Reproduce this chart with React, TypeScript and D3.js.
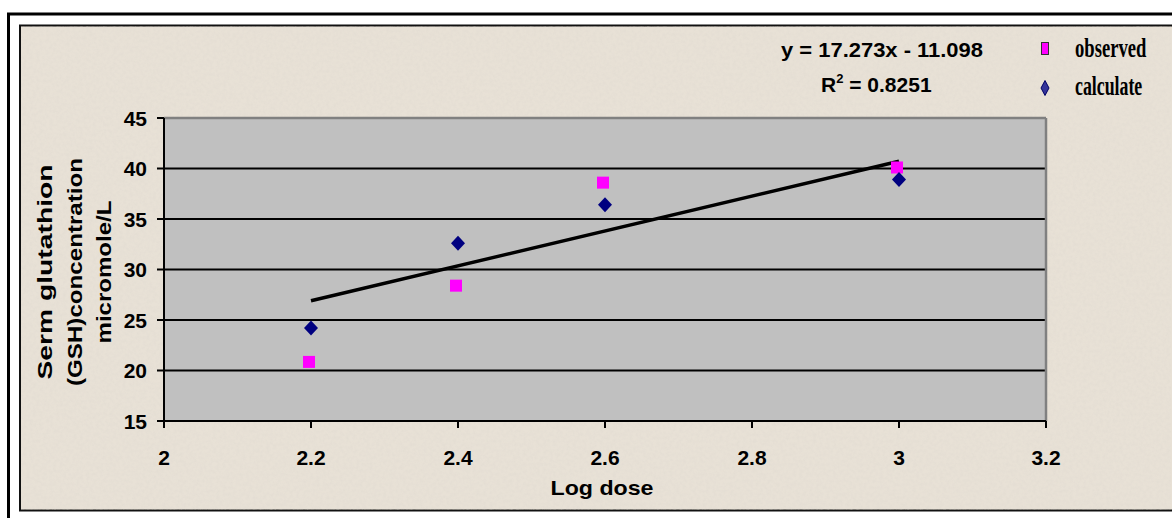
import React from "react";
import * as d3 from "d3";

const logDose = [2.2, 2.4, 2.6, 3.0];
const observed = [20.85, 28.4, 38.6, 40.1];
const calculated = [24.2, 32.6, 36.4, 38.9];
const slope = 17.273;
const intercept = -11.098;
const xTicks = [2, 2.2, 2.4, 2.6, 2.8, 3, 3.2];
const yTicks = [15, 20, 25, 30, 35, 40, 45];
const yTitleLines = ["Serm glutathion", "(GSH)concentration", "micromole/L"];

const W = 1172;
const H = 518;
const PL = 164, PR = 1046, PT = 118, PB = 421;
const FONT = "'Liberation Sans', Arial, sans-serif";
const SERIF = "'Liberation Serif', 'Times New Roman', serif";

export default function App() {
  const x = d3.scaleLinear().domain([2, 3.2]).range([PL, PR]);
  const y = d3.scaleLinear().domain([15, 45]).range([PB, PT]);
  const trendX = [d3.min(logDose)!, d3.max(logDose)!];
  const line = d3
    .line<number>()
    .x((d) => x(d))
    .y((d) => y(slope * d + intercept));
  const diamond = (cx: number, cy: number, hw: number, hh: number) =>
    `M${cx},${cy - hh}L${cx + hw},${cy}L${cx},${cy + hh}L${cx - hw},${cy}Z`;
  const yTitleLens = [215, 228, 143];
  const yTitleX = [45, 75, 104];

  return (
    <svg
      width={W}
      height={H}
      style={{ position: "absolute", left: 0, top: 0, display: "block" }}
    >
      <defs>
        <filter id="noise" x="0" y="0" width="100%" height="100%">
          <feTurbulence type="fractalNoise" baseFrequency="0.3" numOctaves="3" seed="3" result="n" />
          <feColorMatrix
            type="matrix"
            values="0 0 0 0 0.72  0 0 0 0 0.68  0 0 0 0 0.62  0 0 0 0.9 -0.3"
          />
        </filter>
      </defs>
      <rect x={0} y={0} width={W} height={H} fill="#ffffff" />
      <rect x={8.5} y={14} width={1200} height={540} fill="none" stroke="#000" strokeWidth={3} />
      <rect x={20} y={25.5} width={1200} height={485} fill="#e8e1d6" stroke="#111" strokeWidth={2} />
      <rect x={21} y={26.5} width={1150} height={483} fill="#fff" filter="url(#noise)" opacity={0.7} />

      {/* plot area */}
      <rect x={PL} y={PT} width={PR - PL} height={PB - PT} fill="#c0c0c0" />
      {yTicks
        .filter((t) => t > 15 && t < 45)
        .map((t) => (
          <line key={"g" + t} x1={PL} x2={PR} y1={y(t)} y2={y(t)} stroke="#000" strokeWidth={2} />
        ))}
      <line x1={PL} x2={PR} y1={PT} y2={PT} stroke="#808080" strokeWidth={2.5} />
      <line x1={PR} x2={PR} y1={PT} y2={PB} stroke="#808080" strokeWidth={2.5} />
      <line x1={PL} x2={PL} y1={PT} y2={PB + 1} stroke="#000" strokeWidth={2} />
      <line x1={PL} x2={PR} y1={PB} y2={PB} stroke="#000" strokeWidth={2} />

      {yTicks.map((t) => (
        <g key={"yt" + t}>
          <line x1={PL - 7} x2={PL} y1={y(t)} y2={y(t)} stroke="#000" strokeWidth={2} />
          <text
            x={147}
            y={y(t)}
            dy="0.36em"
            textAnchor="end"
            fontFamily={FONT}
            fontWeight="bold"
            fontSize={21}
          >
            {t}
          </text>
        </g>
      ))}
      {xTicks.map((t) => (
        <g key={"xt" + t}>
          <line x1={x(t)} x2={x(t)} y1={PB} y2={PB + 7} stroke="#000" strokeWidth={2} />
          <text
            x={x(t)}
            y={465}
            textAnchor="middle"
            fontFamily={FONT}
            fontWeight="bold"
            fontSize={21}
          >
            {String(t)}
          </text>
        </g>
      ))}

      {/* trendline */}
      <path d={line(trendX) || ""} stroke="#000" strokeWidth={3.5} fill="none" />

      {/* observed */}
      {logDose.map((d, i) => (
        <rect
          key={"o" + i}
          x={x(d) - 8}
          y={y(observed[i]) - 6}
          width={12}
          height={12}
          fill="#ff00ff"
        />
      ))}
      {/* calculated */}
      {logDose.map((d, i) => (
        <path key={"c" + i} d={diamond(x(d), y(calculated[i]), 7, 7.5)} fill="#000080" />
      ))}

      {/* axis titles */}
      <text
        x={602}
        y={495}
        textAnchor="middle"
        fontFamily={FONT}
        fontWeight="bold"
        fontSize={21}
        textLength={103}
        lengthAdjust="spacingAndGlyphs"
      >
        Log dose
      </text>
      {yTitleLines.map((s, i) => (
        <text
          key={"yl" + i}
          transform={`translate(${yTitleX[i]},272) rotate(-90)`}
          textAnchor="middle"
          dy="0.35em"
          fontFamily={FONT}
          fontWeight="bold"
          fontSize={20}
          textLength={yTitleLens[i]}
          lengthAdjust="spacingAndGlyphs"
        >
          {s}
        </text>
      ))}

      {/* equation */}
      <text
        x={781}
        y={57}
        fontFamily={FONT}
        fontWeight="bold"
        fontSize={20}
        textLength={202}
        lengthAdjust="spacingAndGlyphs"
      >
        y = 17.273x - 11.098
      </text>
      <text x={821} y={92} fontFamily={FONT} fontWeight="bold" fontSize={21}>
        R
        <tspan fontSize={13} dy={-9}>2</tspan>
        <tspan dy={9}> = 0.8251</tspan>
      </text>

      {/* legend */}
      <rect x={1041.5} y={42.5} width={7} height={12} fill="#ff00ff" stroke="#333" strokeWidth={1} />
      <g transform="translate(1075,57) scale(0.69,1)">
        <text x={0} y={0} fontFamily={SERIF} fontWeight="bold" fontSize={27}>
          observed
        </text>
      </g>
      <path d={diamond(1045, 88, 4, 7.5)} fill="#333399" stroke="#000066" strokeWidth={1} />
      <g transform="translate(1075,95) scale(0.66,1)">
        <text x={0} y={0} fontFamily={SERIF} fontWeight="bold" fontSize={27}>
          calculate
        </text>
      </g>
    </svg>
  );
}
